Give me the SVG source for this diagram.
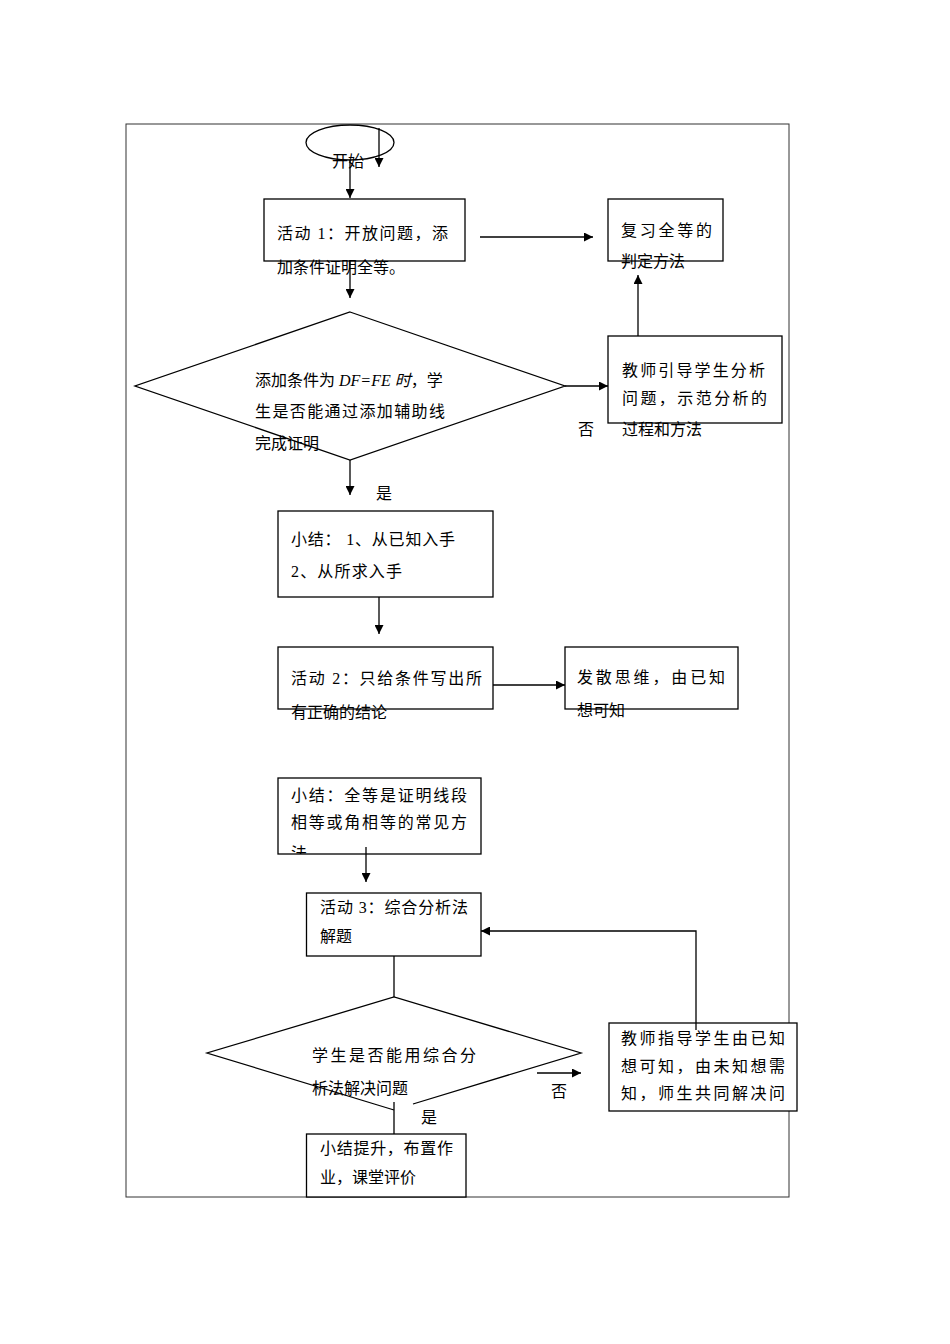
<svg xmlns="http://www.w3.org/2000/svg" width="950" height="1344" viewBox="0 0 950 1344">
<style>
.bx{fill:#fff;stroke:#000;stroke-width:1.3}
.dm{fill:none;stroke:#000;stroke-width:1.3}
.t{font-family:"Liberation Serif","Noto Sans CJK SC",serif;font-size:16px;fill:#000}
.ln{fill:none;stroke:#000;stroke-width:1.3}
.it{font-style:italic}
</style>
<defs>
<marker id="ah" viewBox="0 0 9 9" refX="9" refY="4.5" markerWidth="9" markerHeight="9" markerUnits="userSpaceOnUse" orient="auto">
<path d="M0,0 L9,4.5 L0,9 Z" fill="#000"/>
</marker>
<clipPath id="clipS2"><rect x="278" y="778" width="203" height="76"/></clipPath>
</defs>
<rect x="0" y="0" width="950" height="1344" fill="#fff"/>
<rect x="126" y="124" width="663" height="1073" fill="none" stroke="#333" stroke-width="1"/>

<g id="start">
<ellipse cx="350" cy="142.5" rx="44" ry="17.5" fill="none" stroke="#000" stroke-width="1.3"/>
<text class="t" x="332" y="167">开始</text>
</g>

<g id="act1">
<rect class="bx" x="264" y="199" width="201" height="62"/>
<text class="t" x="277" y="239" textLength="171" lengthAdjust="spacing">活动 1：开放问题，添</text>
<text class="t" x="277" y="273">加条件证明全等。</text>
</g>

<g id="review">
<rect class="bx" x="608" y="199" width="115" height="62"/>
<text class="t" x="621" y="236" textLength="91" lengthAdjust="spacing">复习全等的</text>
<text class="t" x="621" y="267">判定方法</text>
</g>

<g id="dec1">
<polygon class="dm" points="350,312 565,386 350,460 135,386"/>
<text class="t" x="255" y="386">添加条件为 <tspan class="it">DF=FE 时</tspan>，学</text>
<text class="t" x="255" y="417" textLength="190" lengthAdjust="spacing">生是否能通过添加辅助线</text>
<text class="t" x="255" y="449">完成证明</text>
</g>

<g id="teacher1">
<rect class="bx" x="608" y="336" width="174" height="87"/>
<text class="t" x="622" y="376" textLength="143" lengthAdjust="spacing">教师引导学生分析</text>
<text class="t" x="622" y="404" textLength="145" lengthAdjust="spacing">问题，示范分析的</text>
<text class="t" x="622" y="435">过程和方法</text>
</g>

<g id="sum1">
<rect class="bx" x="278" y="511" width="215" height="86"/>
<text class="t" x="291" y="545" textLength="164" lengthAdjust="spacing">小结： 1、从已知入手</text>
<text class="t" x="291" y="577" textLength="111" lengthAdjust="spacing">2、从所求入手</text>
</g>

<g id="act2">
<rect class="bx" x="278" y="647" width="215" height="62"/>
<text class="t" x="291" y="684" textLength="191" lengthAdjust="spacing">活动 2：只给条件写出所</text>
<text class="t" x="291" y="718">有正确的结论</text>
</g>

<g id="diverge">
<rect class="bx" x="565" y="647" width="173" height="62"/>
<text class="t" x="577" y="683" textLength="148" lengthAdjust="spacing">发散思维，由已知</text>
<text class="t" x="577" y="716">想可知</text>
</g>

<g id="sum2">
<rect class="bx" x="278" y="778" width="203" height="76"/>
<text class="t" x="291" y="801" textLength="176" lengthAdjust="spacing">小结：全等是证明线段</text>
<text class="t" x="291" y="828" textLength="176" lengthAdjust="spacing">相等或角相等的常见方</text>
<text class="t" x="291" y="859" clip-path="url(#clipS2)">法</text>
</g>

<g id="act3">
<rect class="bx" x="306.5" y="893" width="174.5" height="63"/>
<text class="t" x="320" y="913" textLength="148" lengthAdjust="spacing">活动 3：综合分析法</text>
<text class="t" x="320" y="942">解题</text>
</g>

<g id="dec2">
<path class="dm" d="M413,1104 L581,1053 L394,997 L207,1053 L394,1110"/>
<text class="t" x="312" y="1061" textLength="164" lengthAdjust="spacing">学生是否能用综合分</text>
<text class="t" x="312" y="1094">析法解决问题</text>
</g>

<g id="teacher2">
<rect class="bx" x="609" y="1023" width="188" height="88"/>
<text class="t" x="621" y="1044" textLength="164" lengthAdjust="spacing">教师指导学生由已知</text>
<text class="t" x="621" y="1072" textLength="164" lengthAdjust="spacing">想可知，由未知想需</text>
<text class="t" x="621" y="1099" textLength="164" lengthAdjust="spacing">知，师生共同解决问</text>
</g>

<g id="final">
<rect class="bx" x="306.5" y="1134" width="159.5" height="63"/>
<text class="t" x="320" y="1154" textLength="133" lengthAdjust="spacing">小结提升，布置作</text>
<text class="t" x="320" y="1183">业，课堂评价</text>
</g>

<g id="connectors">
<path class="ln" d="M379,128 V167" marker-end="url(#ah)"/>
<path class="ln" d="M350,160 V198" marker-end="url(#ah)"/>
<path class="ln" d="M350,261 V298" marker-end="url(#ah)"/>
<path class="ln" d="M480,237 H593" marker-end="url(#ah)"/>
<path class="ln" d="M565,386 H608" marker-end="url(#ah)"/>
<path class="ln" d="M638,336 V275" marker-end="url(#ah)"/>
<path class="ln" d="M350,460 V495" marker-end="url(#ah)"/>
<path class="ln" d="M379,597 V634" marker-end="url(#ah)"/>
<path class="ln" d="M493,685 H565" marker-end="url(#ah)"/>
<path class="ln" d="M366,847 V882" marker-end="url(#ah)"/>
<path class="ln" d="M394,956 V997"/>
<path class="ln" d="M394,1102 V1134"/>
<path class="ln" d="M537,1073 H581" marker-end="url(#ah)"/>
<path class="ln" d="M696,1030 V931 H481" marker-end="url(#ah)"/>
<text class="t" x="578" y="435">否</text>
<text class="t" x="376" y="499">是</text>
<text class="t" x="551" y="1097">否</text>
<text class="t" x="421" y="1123">是</text>
</g>
</svg>
